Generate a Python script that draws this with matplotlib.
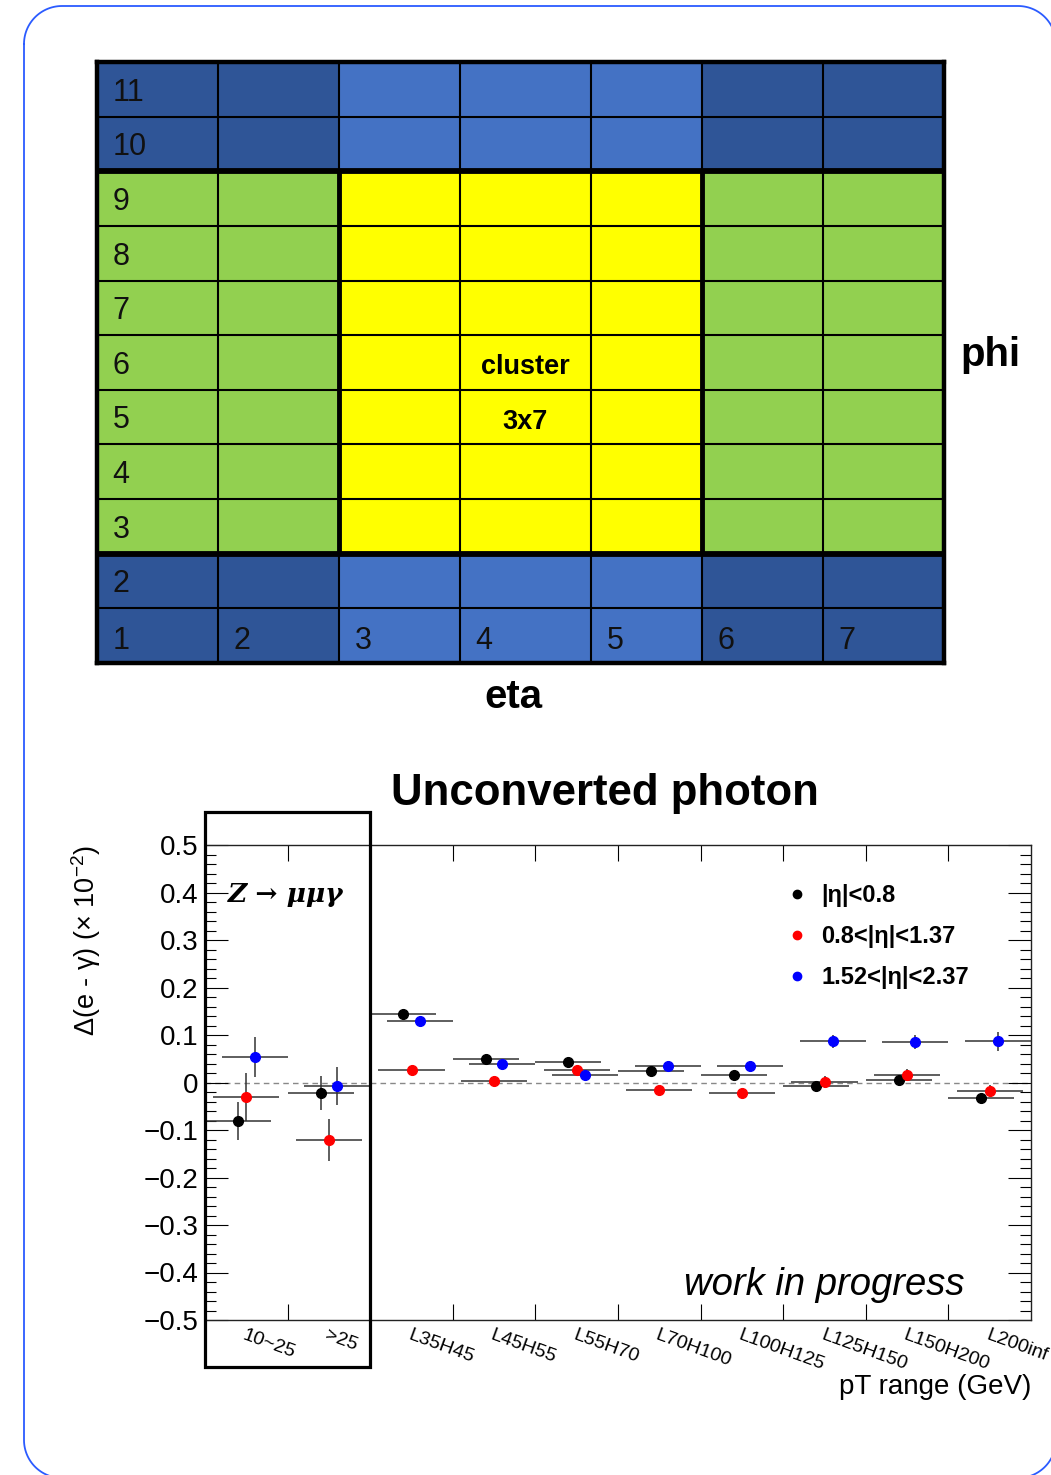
import numpy as np
import matplotlib
matplotlib.use("Agg")
import matplotlib.pyplot as plt
from matplotlib.patches import Rectangle
from matplotlib.colors import ListedColormap
from matplotlib.lines import Line2D

plt.rcParams['font.family'] = ['Liberation Sans', 'DejaVu Sans']
plt.rcParams['mathtext.default'] = 'regular'

# CELL DIAGRAM DATA
# rows from top (phi 11) to bottom (phi 1): D dark blue, L light blue, G green, Y yellow (cluster)
cell_rows = [
    "DDLLLDD",  # 11
    "DDLLLDD",  # 10
    "GGYYYGG",  # 9
    "GGYYYGG",  # 8
    "GGYYYGG",  # 7
    "GGYYYGG",  # 6
    "GGYYYGG",  # 5
    "GGYYYGG",  # 4
    "GGYYYGG",  # 3
    "DDLLLDD",  # 2
    "DDLLLDD",  # 1
]
cell_codes = "DLGY"
cell_colors = ["#2F5597", "#4472C4", "#92D050", "#FFFF00"]
eta_edges = [0, 1, 2, 3, 4.08, 5, 6, 7]   # cell 4 is drawn a bit wider
phi_labels = ["11", "10", "9", "8", "7", "6", "5", "4", "3", "2"]
eta_labels = ["1", "2", "3", "4", "5", "6", "7"]
cluster_lines = ["cluster", "3x7"]

# DELTA PLOT DATA
pt_bins = ["10~25", ">25", "L35H45", "L45H55", "L55H70", "L70H100",
           "L100H125", "L125H150", "L150H200", "L200inf"]
eta_regions = ["|η|<0.8", "0.8<|η|<1.37", "1.52<|η|<2.37"]
series_colors = ["black", "red", "blue"]

delta_central = [-0.080, -0.022, 0.145, 0.049, 0.044, 0.025, 0.016, -0.007, 0.005, -0.032]
delta_mid     = [-0.031, -0.121, 0.027, 0.004, 0.027, -0.016, -0.023, 0.001, 0.016, -0.017]
delta_fwd     = [0.054, -0.008, 0.129, 0.039, 0.015, 0.035, 0.035, 0.087, 0.085, 0.087]

err_central = [0.040, 0.036, 0.006, 0.006, 0.006, 0.006, 0.006, 0.009, 0.008, 0.008]
err_mid     = [0.050, 0.045, 0.007, 0.007, 0.008, 0.007, 0.007, 0.013, 0.012, 0.012]
err_fwd     = [0.042, 0.040, 0.007, 0.007, 0.008, 0.008, 0.008, 0.014, 0.015, 0.020]

y_ticks = [-0.5, -0.4, -0.3, -0.2, -0.1, 0.0, 0.1, 0.2, 0.3, 0.4, 0.5]
y_tick_labels = ["\u22120.5", "\u22120.4", "\u22120.3", "\u22120.2", "\u22120.1", "0",
                 "0.1", "0.2", "0.3", "0.4", "0.5"]

W, H = 1051, 1475
fig = plt.figure(figsize=(W / 100, H / 100), dpi=100)


def px_box(x0, y0, x1, y1):
    return [x0 / W, 1 - y1 / H, (x1 - x0) / W, (y1 - y0) / H]


# rounded frame around everything (pixel units, y down)
ax_bg = fig.add_axes([0, 0, 1, 1])
ax_bg.set_xlim(0, W)
ax_bg.set_ylim(H, 0)
ax_bg.axis("off")
fx0, fy0, fx1, fy1, r = 24, 6, 1056, 1478, 38
t = np.linspace(0, np.pi / 2, 30)
frame_x = np.concatenate([fx0 + r - r * np.cos(t), fx1 - r + r * np.sin(t),
                          fx1 - r + r * np.cos(t), fx0 + r - r * np.sin(t)])
frame_y = np.concatenate([fy0 + r - r * np.sin(t), fy0 + r - r * np.cos(t),
                          fy1 - r + r * np.sin(t), fy1 - r + r * np.cos(t)])
ax_bg.plot(np.append(frame_x, frame_x[0]), np.append(frame_y, frame_y[0]),
           color="#2B5BFF", lw=1.3)

# ---------------- CELL GRID ----------------
ax_g = fig.add_axes(px_box(97, 62, 944, 663))
grid = np.array([[cell_codes.index(ch) for ch in row] for row in cell_rows])
ax_g.pcolormesh(eta_edges, np.arange(12), grid[::-1],
                cmap=ListedColormap(cell_colors), vmin=-0.5, vmax=3.5)
ax_g.hlines(np.arange(1, 11), 0, 7, color="black", lw=1.5)
ax_g.vlines(eta_edges[1:-1], 0, 11, color="black", lw=1.5)
ax_g.hlines([2, 9], 0, 7, color="black", lw=4.2)
ax_g.vlines([eta_edges[2], eta_edges[5]], 2, 9, color="black", lw=3.5)
ax_g.set_xlim(0, 7)
ax_g.set_ylim(0, 11)
ax_g.set_xticks([])
ax_g.set_yticks([])
for sp in ax_g.spines.values():
    sp.set_linewidth(3.2)

num_font = ["Liberation Sans Narrow", "Liberation Sans"]
for i, lab in enumerate(phi_labels):
    ax_g.text(0.13, 11 - i - 0.56, lab, ha="left", va="center",
              fontsize=22, family=num_font, color="#111111")
for j, lab in enumerate(eta_labels):
    ax_g.text(eta_edges[j] + 0.13, 0.40, lab, ha="left", va="center",
              fontsize=22, family=num_font, color="#111111")
for k, line in enumerate(cluster_lines):
    ax_g.text((eta_edges[3] + eta_edges[4]) / 2, 5.42 - k, line,
              ha="center", va="center", fontsize=19.5, fontweight="bold")

fig.text(990 / W, 1 - 355 / H, "phi", ha="center", va="center",
         fontsize=29, fontweight="bold")
fig.text(513 / W, 1 - 697 / H, "eta", ha="center", va="center",
         fontsize=29, fontweight="bold")

# ---------------- DELTA PLOT ----------------
ax = fig.add_axes(px_box(205, 845, 1031, 1320))
centers = np.arange(len(pt_bins)) + 0.5
offsets = [-0.1, 0.0, 0.1]
values = [delta_central, delta_mid, delta_fwd]
errors = [err_central, err_mid, err_fwd]

ax.axhline(0, color="#888888", lw=1.0, ls=(0, (4, 3)), zorder=1)
for vals, errs, col, off in zip(values, errors, series_colors, offsets):
    ax.errorbar(centers + off, vals, yerr=errs, xerr=0.4, fmt="o",
                color=col, ms=7, ecolor="#333333", elinewidth=1.1,
                capsize=0, zorder=3)

ax.set_xlim(0, len(pt_bins))
ax.set_ylim(-0.5, 0.5)
ax.set_xticks(np.arange(1, len(pt_bins)))
ax.set_xticklabels([])
ax.set_xticks(centers, minor=True)
ax.set_xticklabels(pt_bins, minor=True, rotation=-20, ha="left", va="top",
                   rotation_mode="anchor", fontsize=14)
ax.tick_params(axis="x", which="major", direction="in", length=11.5,
               width=0.8, top=True, bottom=True)
ax.tick_params(axis="x", which="minor", length=0, pad=5)

ax.set_yticks(y_ticks)
ax.set_yticklabels(y_tick_labels, fontsize=20)
ax.set_yticks(np.arange(-0.5, 0.501, 0.02), minor=True)
ax.tick_params(axis="y", which="major", direction="in", length=16.5,
               width=0.8, left=True, right=True, pad=5)
ax.tick_params(axis="y", which="minor", direction="in", length=8,
               width=0.8, left=True, right=True)
for sp in ax.spines.values():
    sp.set_linewidth(1.0)
    sp.set_color("#222222")

# box around Z -> mumugamma bins
ax.add_patch(Rectangle((0, -0.599), 2, 1.168, fill=False, lw=2.3,
                       edgecolor="black", clip_on=False, zorder=5))
ax.text(0.28, 0.395, "Z \u2192 \u03bc\u03bc\u03b3", ha="left", va="center",
        fontsize=19, fontstyle="italic", fontweight="bold",
        family=["DejaVu Serif"])

handles = [Line2D([0], [0], marker="o", ls="none", color=c, ms=6)
           for c in series_colors]
ax.legend(handles, eta_regions, loc="upper left",
          bbox_to_anchor=(0.702, 0.918), frameon=False, borderpad=0,
          borderaxespad=0, handlelength=1.0, handletextpad=0.55,
          labelspacing=0.76, prop={"weight": "bold", "size": 17})

ax.text(0.92, 0.074, "work in progress", transform=ax.transAxes,
        ha="right", va="center", fontsize=27.5, fontstyle="italic")
ax.text(1.0, -0.141, "pT range (GeV)", transform=ax.transAxes,
        ha="right", va="center", fontsize=20)
ax.set_ylabel("\u0394(e - \u03b3) (\u00d7 10$^{-2}$)", fontsize=19.5)
ax.yaxis.set_label_coords((103 - 205) / 826, (1320 - 940) / 475)

fig.text(605 / W, 1 - 793 / H, "Unconverted photon", ha="center",
         va="center", fontsize=31.5, fontweight="bold")

fig.savefig("out.png", dpi=100)
